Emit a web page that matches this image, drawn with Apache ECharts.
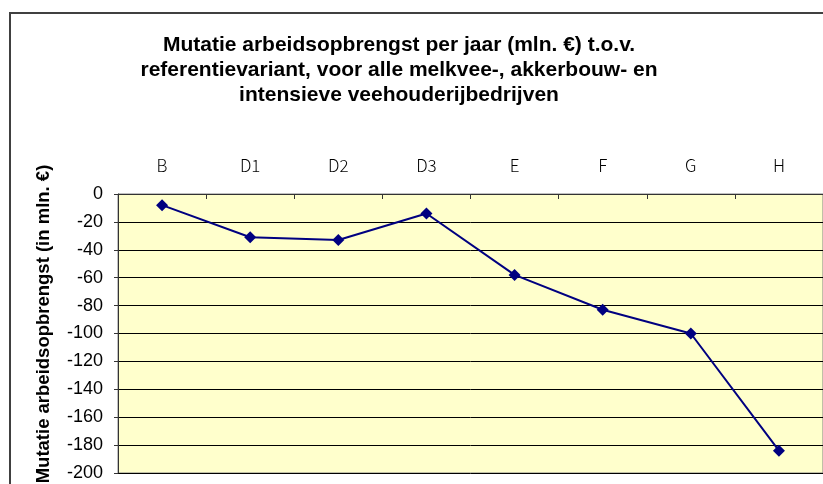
<!DOCTYPE html>
<html>
<head>
<meta charset="utf-8">
<script src="https://cdn.jsdelivr.net/npm/echarts@6/dist/echarts.min.js"></script>
<style>
    html, body { margin: 0; padding: 0; background: #fff; }
    #chart { width: 823px; height: 484px; }
</style>
</head>
<body>
<div id="chart"></div>
<script>
// varianten langs de x-as
var varianten = ['B', 'D1', 'D2', 'D3', 'E', 'F', 'G', 'H'];
// mutatie arbeidsopbrengst (mln. euro)
var mutatie = [-8, -31, -33, -14, -58, -83, -100, -184];
// y-as
var yMin = -200;
var yMax = 0;
var yStap = 20;

var titel = 'Mutatie arbeidsopbrengst per jaar (mln. €) t.o.v.\n' +
    'referentievariant, voor alle melkvee-, akkerbouw- en\n' +
    'intensieve veehouderijbedrijven';
var yTitel = 'Mutatie arbeidsopbrengst (in mln. €)';

var myChart = echarts.init(document.getElementById('chart'));

var option = {
    animation: false,
    title: {
        text: titel,
        left: 394,
        top: 28,
        textAlign: 'center',
        textStyle: {
            fontFamily: 'Liberation Sans',
            fontWeight: 'bold',
            fontSize: 21,
            lineHeight: 25,
            color: '#000'
        }
    },
    graphic: [
        {
            // rand om het hele diagram
            type: 'rect',
            shape: { x: 10, y: 13, width: 830, height: 490 },
            style: { fill: 'none', stroke: '#404040', lineWidth: 2 },
            silent: true
        },
        {
            // titel van de y-as
            type: 'text',
            x: 44,
            y: 324,
            rotation: Math.PI / 2,
            style: {
                text: yTitel,
                align: 'center',
                verticalAlign: 'middle',
                font: 'bold 18.5px "Liberation Sans"',
                fill: '#000'
            },
            silent: true
        }
    ],
    grid: {
        left: 118,
        top: 194,
        width: 707,
        height: 279,
        show: true,
        backgroundColor: '#FFFFCC',
        borderColor: '#808080',
        borderWidth: 1
    },
    xAxis: {
        type: 'category',
        position: 'top',
        data: varianten,
        boundaryGap: true,
        axisLine: { lineStyle: { color: '#333', width: 1 } },
        axisTick: { show: true, inside: true, length: 5, lineStyle: { color: '#333' } },
        axisLabel: {
            margin: 20,
            fontFamily: 'Noto Sans CJK JP',
            fontWeight: 300,
            fontSize: 17,
            color: '#000'
        }
    },
    yAxis: {
        type: 'value',
        min: yMin,
        max: yMax,
        interval: yStap,
        axisLine: { show: true, lineStyle: { color: '#333', width: 1 } },
        axisTick: { show: true, length: 4, lineStyle: { color: '#333' } },
        axisLabel: {
            margin: 15,
            fontFamily: 'Liberation Sans',
            fontSize: 18,
            color: '#000'
        },
        splitLine: { show: true, lineStyle: { color: '#000', width: 1 } }
    },
    series: [
        {
            name: 'Mutatie',
            type: 'line',
            data: mutatie,
            symbol: 'diamond',
            symbolSize: 12,
            itemStyle: { color: '#000080' },
            lineStyle: { color: '#000080', width: 2 }
        }
    ]
};

myChart.setOption(option);
</script>
</body>
</html>
